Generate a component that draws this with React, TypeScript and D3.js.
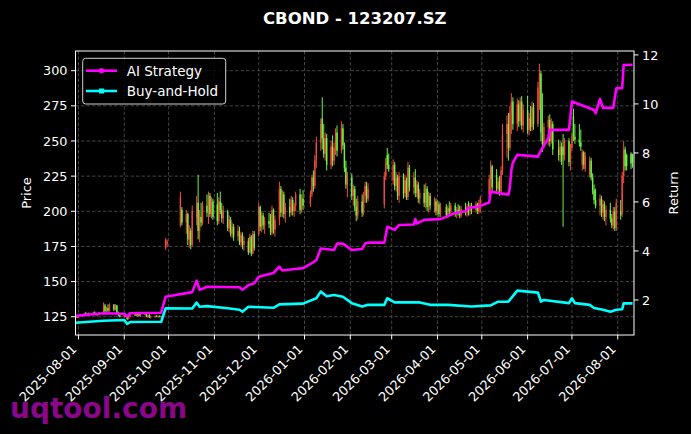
import React from 'react';
import * as d3 from 'd3';

// ---------- data ----------
// candles: [day, open, high, low, close]
const jul2025 = [
  [30, 124.5, 125.5, 123.8, 125.0], [31, 125.0, 125.8, 124.2, 124.6],
];
const aug2025 = [
  [1, 124.6, 126.0, 124.2, 125.6], [4, 125.6, 127.0, 125.0, 126.4], [5, 126.4, 127.8, 125.8, 127.2],
  [6, 127.2, 128.5, 126.0, 126.5], [7, 126.5, 127.5, 125.6, 127.0], [8, 127.0, 128.0, 126.2, 126.6],
  [11, 126.6, 128.6, 126.0, 128.0], [12, 128.0, 128.8, 126.5, 127.0], [13, 127.0, 127.8, 125.8, 126.2],
  [14, 126.2, 127.6, 125.5, 127.2], [15, 127.2, 128.2, 126.4, 126.8], [18, 126.8, 135.2, 126.5, 133.0],
  [19, 133.0, 134.2, 128.0, 129.0], [20, 129.0, 132.0, 128.2, 131.2], [21, 131.2, 133.8, 128.4, 129.2],
  [22, 129.2, 134.5, 128.6, 133.6], [25, 133.6, 134.0, 129.0, 130.0], [26, 130.0, 134.0, 129.5, 133.0],
  [27, 133.0, 133.4, 126.8, 127.5], [28, 127.5, 128.6, 125.2, 126.0], [29, 126.0, 127.4, 124.6, 125.0],
];
const sep2025 = [
  [1, 125.0, 126.8, 124.4, 126.2], [2, 126.2, 127.0, 124.8, 125.2], [3, 125.2, 125.8, 122.6, 123.4],
  [4, 123.4, 125.6, 123.0, 125.2], [5, 125.2, 126.6, 124.6, 126.0], [8, 126.0, 128.2, 125.6, 127.6],
  [9, 127.6, 128.2, 125.4, 125.8], [10, 125.8, 127.4, 125.0, 126.8], [11, 126.8, 127.6, 125.2, 125.6],
  [12, 125.6, 127.2, 124.8, 126.6], [15, 126.6, 128.0, 125.8, 127.4], [16, 127.4, 127.8, 124.6, 125.0],
  [17, 125.0, 126.6, 124.2, 126.0], [18, 126.0, 126.8, 124.0, 124.6], [19, 124.6, 125.8, 123.8, 125.2],
  [22, 125.2, 126.0, 124.4, 125.6], [23, 125.6, 126.2, 124.6, 125.0], [24, 125.0, 125.8, 124.2, 125.4],
  [25, 125.4, 126.0, 124.6, 124.8], [26, 124.8, 125.6, 124.0, 125.2], [29, 174.0, 181.0, 172.5, 179.5],
  [30, 176.5, 180.0, 174.5, 178.5],
];
const oct2025 = [
  [9, 190, 214, 188.5, 210], [10, 201, 203, 190, 192], [13, 192, 201, 184, 198], [14, 198, 199, 176, 180],
  [15, 180, 190, 174, 186], [16, 186, 188, 173, 176], [17, 176, 204, 175, 200], [20, 195, 211, 190, 206],
  [21, 206, 226, 180, 186], [22, 186, 201, 178, 196], [23, 196, 206, 189, 192], [24, 192, 207, 190, 204],
  [27, 204, 212, 196, 199], [28, 199, 214, 191, 211], [29, 211, 213, 196, 198], [30, 198, 210, 195, 207],
  [31, 207, 209, 194, 196],
];
const nov2025 = [
  [3, 205, 213, 190, 193], [4, 193, 210, 191, 207], [5, 207, 214, 198, 201], [6, 201, 206, 192, 195],
  [7, 195, 204, 191, 200], [10, 200, 201, 186, 188], [11, 188, 197, 185, 194], [12, 194, 196, 182, 184],
  [13, 184, 192, 181, 189], [14, 189, 191, 179, 182], [17, 182, 190, 179, 186], [18, 186, 189, 176, 178],
  [19, 178, 185, 175, 183], [20, 183, 185, 173, 176], [21, 176, 182, 172, 179], [24, 179, 181, 169, 171],
  [25, 171, 184, 170, 182], [26, 182, 183, 168, 170], [27, 170, 186, 169.5, 184], [28, 184, 186, 172, 174],
];
const dec2025 = [
  [1, 184, 206, 182, 203], [2, 203, 204, 186, 189], [3, 189, 200, 185, 197], [4, 197, 199, 187, 190],
  [5, 190, 196, 184, 193], [8, 193, 199, 188, 191], [9, 191, 198, 183, 185], [10, 185, 204, 183, 201],
  [11, 201, 202, 184, 187], [12, 187, 197, 182, 194], [15, 194, 221, 190, 216], [16, 216, 218, 196, 199],
  [17, 199, 215, 196, 212], [18, 212, 214, 195, 198], [19, 198, 206, 192, 203], [22, 203, 209, 196, 199],
  [23, 199, 211, 197, 208], [24, 208, 210, 197, 200], [25, 200, 206, 196, 204], [26, 204, 214, 200, 212],
  [29, 212, 216, 198, 201], [30, 201, 212, 199, 209], [31, 209, 215, 201, 204],
];
const jan2026 = [
  [5, 205, 215, 203, 212], [6, 212, 226, 210, 224], [7, 224, 229, 214, 218], [8, 218, 240, 216, 236],
  [9, 236, 253, 231, 249], [12, 249, 266, 243, 262], [13, 266, 281, 244, 252], [14, 252, 262, 238, 241],
  [15, 241, 256, 236, 252], [16, 252, 255, 229, 233], [19, 233, 250, 230, 246], [20, 246, 254, 232, 236],
  [21, 236, 249, 233, 245], [22, 245, 259, 240, 256], [23, 256, 261, 239, 243], [26, 243, 264, 241, 259],
  [27, 259, 262, 244, 247], [28, 247, 249, 228, 231], [29, 231, 236, 216, 219], [30, 219, 228, 210, 224],
];
const feb2026 = [
  [2, 224, 227, 208, 211], [3, 211, 219, 204, 216], [4, 216, 218, 200, 203], [5, 203, 209, 193, 197],
  [6, 197, 211, 194, 207], [9, 207, 212, 196, 199], [10, 199, 214, 197, 211], [11, 211, 221, 206, 218],
  [12, 218, 221, 206, 209], [13, 209, 220, 207, 216], [24, 205, 228, 202, 225], [25, 225, 238, 222, 234],
  [26, 240, 245, 230, 233], [27, 233, 241, 228, 230],
];
const mar2026 = [
  [2, 222, 237, 219, 233], [3, 233, 235, 215, 218], [4, 218, 228, 214, 224], [5, 224, 226, 208, 211],
  [6, 211, 228, 206, 225], [9, 225, 227, 209, 213], [10, 213, 226, 210, 222], [11, 222, 224, 208, 210],
  [12, 210, 235, 208, 231], [13, 231, 233, 214, 217], [16, 217, 228, 212, 224], [17, 224, 230, 210, 213],
  [18, 213, 222, 210, 219], [19, 219, 221, 206, 209], [20, 209, 216, 205, 213], [23, 213, 219, 203, 206],
  [24, 206, 220, 202, 216], [25, 216, 218, 200, 203], [26, 203, 214, 199, 211], [27, 211, 213, 201, 204],
  [30, 204, 210, 199, 207], [31, 207, 209, 197, 200],
];
const apr2026 = [
  [1, 200, 208, 197, 205], [2, 205, 207, 196, 198], [3, 198, 206, 196, 203], [7, 203, 205, 195, 197],
  [8, 197, 204, 195, 202], [9, 202, 207, 198, 200], [10, 200, 206, 197, 204], [13, 204, 206, 196, 198],
  [14, 198, 203, 195, 201], [15, 201, 205, 197, 199], [16, 199, 204, 195, 197], [17, 197, 204, 195.5, 202],
  [20, 202, 206, 197, 199], [21, 199, 205, 196, 203], [22, 203, 207, 197, 200], [23, 200, 206, 197, 204],
  [24, 204, 206, 198, 201], [27, 201, 207, 199, 205], [28, 205, 206, 198, 200], [29, 200, 208, 198, 206],
  [30, 206, 211, 199, 209],
];
const may2026 = [
  [6, 212, 226, 210, 223], [7, 223, 236, 215, 232], [8, 232, 233, 214, 217], [11, 226, 230, 214, 216],
  [12, 216, 224, 212, 221], [13, 221, 225, 211, 214], [14, 214, 232, 212, 229], [15, 229, 262, 226, 255],
  [18, 255, 268, 238, 262], [19, 262, 270, 236, 245], [20, 245, 275, 243, 270], [21, 270, 284, 255, 278],
  [22, 278, 281, 258, 262], [25, 262, 280, 257, 276], [26, 276, 279, 260, 264], [27, 264, 281, 261, 278],
  [28, 278, 282, 258, 261], [29, 261, 276, 256, 272],
];
const jun2026 = [
  [1, 272, 282, 255, 258], [2, 258, 270, 254, 266], [3, 266, 275, 257, 260], [4, 260, 278, 257, 274],
  [5, 274, 277, 258, 262], [8, 262, 292, 260, 288], [9, 288, 305, 272, 298], [10, 298, 300, 250, 256],
  [11, 256, 284, 242, 248], [12, 248, 263, 245, 260], [15, 260, 268, 247, 265], [16, 265, 269, 246, 250],
  [17, 250, 266, 248, 262], [18, 262, 264, 240, 244], [22, 244, 251, 236, 240], [23, 240, 250, 235, 246],
  [24, 246, 249, 233, 236], [25, 246, 255, 189, 240], [26, 240, 252, 236, 250], [29, 250, 252, 232, 235],
  [30, 235, 248, 229, 245],
];
const jul2026 = [
  [1, 245, 256, 243, 253], [2, 268, 273, 250, 253], [3, 253, 262, 248, 251], [6, 251, 262, 246, 249],
  [7, 249, 258, 243, 246], [8, 233, 244, 229, 242], [9, 242, 243, 230, 233], [10, 230, 242, 228, 239],
  [13, 226, 239, 224, 236], [14, 236, 238, 222, 224], [15, 224, 227, 212, 215], [16, 215, 219, 205, 208],
  [17, 208, 216, 202, 204], [20, 204, 212, 197, 209], [21, 209, 211, 196, 199], [22, 199, 208, 194, 205],
  [23, 205, 207, 193, 196], [24, 196, 204, 190, 201], [27, 201, 206, 192, 195], [28, 195, 198, 188, 190],
  [29, 190, 203, 187, 200], [30, 200, 203, 186, 188], [31, 188, 209, 186, 206],
];
const aug2026 = [
  [3, 200, 208, 194, 197], [4, 198, 228, 196, 225], [5, 225, 250, 220, 244], [6, 244, 246, 229, 232],
  [7, 240, 241, 229, 232], [10, 241, 242, 230, 234], [11, 240, 241, 231, 235],
];

const aiStrategy: [string, number][] = [
  ['2025-07-30', 1.35], ['2025-08-18', 1.46], ['2025-09-01', 1.44], ['2025-09-03', 1.32],
  ['2025-09-05', 1.46], ['2025-09-26', 1.48], ['2025-09-29', 2.13], ['2025-10-17', 2.32],
  ['2025-10-20', 2.79], ['2025-10-22', 2.41], ['2025-10-27', 2.54], ['2025-11-18', 2.52],
  ['2025-11-20', 2.42], ['2025-11-24', 2.6], ['2025-11-28', 2.68], ['2025-12-01', 2.95],
  ['2025-12-11', 3.1], ['2025-12-15', 3.36], ['2025-12-17', 3.2], ['2025-12-24', 3.25],
  ['2025-12-31', 3.3], ['2026-01-06', 3.5], ['2026-01-09', 3.63], ['2026-01-12', 4.1],
  ['2026-01-21', 4.04], ['2026-01-23', 4.3], ['2026-01-27', 4.3], ['2026-02-02', 4.04],
  ['2026-02-09', 4.08], ['2026-02-11', 4.3], ['2026-02-13', 4.34], ['2026-02-24', 4.34],
  ['2026-02-26', 4.99], ['2026-03-03', 4.86], ['2026-03-06', 5.06], ['2026-03-16', 5.08],
  ['2026-03-17', 5.3], ['2026-03-18', 5.12], ['2026-03-23', 5.27], ['2026-04-03', 5.3],
  ['2026-04-08', 5.42], ['2026-04-13', 5.55], ['2026-04-20', 5.62], ['2026-04-22', 5.76],
  ['2026-04-28', 5.8], ['2026-05-06', 5.98], ['2026-05-07', 6.42], ['2026-05-19', 6.3],
  ['2026-05-20', 6.6], ['2026-05-21', 7.3], ['2026-05-22', 7.6], ['2026-05-25', 7.92],
  ['2026-06-08', 7.85], ['2026-06-10', 8.1], ['2026-06-15', 8.6], ['2026-06-16', 8.94],
  ['2026-06-29', 8.94], ['2026-07-01', 10.1], ['2026-07-16', 9.75], ['2026-07-17', 9.62],
  ['2026-07-20', 10.2], ['2026-07-22', 9.84], ['2026-07-29', 9.84], ['2026-07-31', 10.64],
  ['2026-08-04', 10.64], ['2026-08-05', 11.59], ['2026-08-11', 11.6],
];
const buyHold: [string, number][] = [
  ['2025-07-30', 1.07], ['2025-08-18', 1.15], ['2025-09-01', 1.18], ['2025-09-03', 1.02],
  ['2025-09-05', 1.1], ['2025-09-26', 1.11], ['2025-09-29', 1.66], ['2025-10-17', 1.65],
  ['2025-10-20', 1.89], ['2025-10-22', 1.72], ['2025-10-27', 1.75], ['2025-11-10', 1.66],
  ['2025-11-18', 1.6], ['2025-11-20', 1.52], ['2025-11-24', 1.72], ['2025-12-11', 1.68],
  ['2025-12-15', 1.82], ['2025-12-31', 1.85], ['2026-01-09', 2.07], ['2026-01-12', 2.34],
  ['2026-01-16', 2.15], ['2026-01-21', 2.2], ['2026-01-27', 2.13], ['2026-02-02', 1.87],
  ['2026-02-09', 1.73], ['2026-02-13', 1.8], ['2026-02-24', 1.8], ['2026-02-26', 2.07],
  ['2026-03-03', 1.9], ['2026-03-20', 1.9], ['2026-03-27', 1.8], ['2026-04-08', 1.8],
  ['2026-04-24', 1.73], ['2026-05-07', 1.78], ['2026-05-12', 1.93], ['2026-05-19', 1.93],
  ['2026-05-25', 2.38], ['2026-06-08', 2.3], ['2026-06-10', 1.93], ['2026-06-12', 2.0],
  ['2026-06-29', 1.87], ['2026-07-01', 2.07], ['2026-07-03', 1.87], ['2026-07-13', 1.8],
  ['2026-07-16', 1.67], ['2026-07-22', 1.6], ['2026-07-27', 1.52], ['2026-07-31', 1.6],
  ['2026-08-04', 1.62], ['2026-08-05', 1.86], ['2026-08-11', 1.86],
];

const priceTicks = [125, 150, 175, 200, 225, 250, 275, 300];
const returnTicks = [2, 4, 6, 8, 10, 12];
const dateTicks = [
  '2025-08-01', '2025-09-01', '2025-10-01', '2025-11-01', '2025-12-01', '2026-01-01', '2026-02-01',
  '2026-03-01', '2026-04-01', '2026-05-01', '2026-06-01', '2026-07-01', '2026-08-01',
];
const title = 'CBOND - 123207.SZ';
const legendLabels = ['AI Strategy', 'Buy-and-Hold'];

// ---------- layout ----------
const W = 691, H = 434;
const L = 75.5, R = 634, T = 51, B = 335;
const FONT = '"DejaVu Sans", sans-serif';
const UP = '#f04a3c', DOWN = '#6cf542';

const monthBlocks: [number, number, number[][]][] = [
  [2025, 6, jul2025], [2025, 7, aug2025], [2025, 8, sep2025], [2025, 9, oct2025],
  [2025, 10, nov2025], [2025, 11, dec2025], [2026, 0, jan2026], [2026, 1, feb2026],
  [2026, 2, mar2026], [2026, 3, apr2026], [2026, 4, may2026], [2026, 5, jun2026],
  [2026, 6, jul2026], [2026, 7, aug2026],
];

export default function App() {
  const parse = d3.timeParse('%Y-%m-%d');
  const fmt = d3.timeFormat('%Y-%m-%d');
  const x = d3.scaleTime().domain([new Date(2025, 6, 30), new Date(2026, 7, 12)]).range([L, R]);
  const yP = d3.scaleLinear().domain([112, 314]).range([B, T]);
  const yR = d3.scaleLinear().domain([0.57, 12.16]).range([B, T]);

  const candles = monthBlocks.flatMap(([yr, mo, rows]) =>
    rows.map((r) => ({ date: new Date(yr, mo, r[0]), o: r[1], h: r[2], l: r[3], c: r[4] }))
  );

  const lineGen = d3
    .line<[string, number]>()
    .x((d) => x(parse(d[0]) as Date))
    .y((d) => yR(d[1]));

  const xTickDates = dateTicks.map((s) => parse(s) as Date);

  return (
    <svg
      width={W}
      height={H}
      style={{ position: 'absolute', left: 0, top: 0, background: '#000' }}
      fontFamily={FONT}
    >
      <rect x={0} y={0} width={W} height={H} fill="#000" />
      <defs>
        <clipPath id="plotclip">
          <rect x={L} y={T} width={R - L} height={B - T} />
        </clipPath>
      </defs>

      {/* title */}
      <text x={(L + R) / 2} y={24} fill="#fff" fontSize={16.5} fontWeight="bold" textAnchor="middle">
        {title}
      </text>

      {/* grid */}
      <g stroke="#5e5e5e" strokeWidth={0.7} strokeDasharray="3.5,2">
        {xTickDates.map((d, i) => (
          <line key={'gx' + i} x1={x(d)} x2={x(d)} y1={T} y2={B} />
        ))}
        {priceTicks.map((v) => (
          <line key={'gy' + v} x1={L} x2={R} y1={yP(v)} y2={yP(v)} />
        ))}
      </g>

      {/* candles */}
      <g clipPath="url(#plotclip)">
        {candles.map((c, i) => {
          const cx = x(c.date);
          const col = c.c >= c.o ? UP : DOWN;
          const top = yP(Math.max(c.o, c.c));
          const bot = yP(Math.min(c.o, c.c));
          return (
            <g key={'c' + i}>
              <line x1={cx} x2={cx} y1={yP(c.h)} y2={yP(c.l)} stroke={col} strokeWidth={1} />
              <rect x={cx - 0.7} y={top} width={1.4} height={Math.max(0.8, bot - top)} fill={col} />
            </g>
          );
        })}
      </g>

      {/* return lines */}
      <g clipPath="url(#plotclip)" fill="none" strokeWidth={2.6} strokeLinejoin="round">
        <path d={lineGen(buyHold) || ''} stroke="#00ffff" />
        <path d={lineGen(aiStrategy) || ''} stroke="#ff00ff" />
      </g>

      {/* watermark */}
      <text x={10} y={418} fill="#8a078a" fontSize={28} fontWeight="bold">
        uqtool.com
      </text>

      {/* frame */}
      <rect x={L} y={T} width={R - L} height={B - T} fill="none" stroke="#fff" strokeWidth={1} />

      {/* left axis */}
      <g fill="#fff" fontSize={12.8}>
        {priceTicks.map((v) => (
          <g key={'lt' + v}>
            <line x1={L - 4.5} x2={L} y1={yP(v)} y2={yP(v)} stroke="#fff" strokeWidth={1} />
            <text x={L - 8} y={yP(v)} dy="0.36em" textAnchor="end">
              {v}
            </text>
          </g>
        ))}
      </g>
      <text
        transform={`translate(26,${(T + B) / 2}) rotate(-90)`}
        fill="#fff"
        fontSize={13}
        textAnchor="middle"
        dy="0.36em"
      >
        Price
      </text>

      {/* right axis */}
      <g fill="#fff" fontSize={12.8}>
        {returnTicks.map((v) => (
          <g key={'rt' + v}>
            <line x1={R} x2={R + 4.5} y1={yR(v)} y2={yR(v)} stroke="#fff" strokeWidth={1} />
            <text x={R + 8} y={yR(v)} dy="0.36em" textAnchor="start">
              {v}
            </text>
          </g>
        ))}
      </g>
      <text
        transform={`translate(673,${(T + B) / 2}) rotate(-90)`}
        fill="#fff"
        fontSize={13}
        textAnchor="middle"
        dy="0.36em"
      >
        Return
      </text>

      {/* bottom axis */}
      <g fill="#fff" fontSize={12.8}>
        {xTickDates.map((d, i) => (
          <g key={'bt' + i}>
            <line x1={x(d)} x2={x(d)} y1={B} y2={B + 4.5} stroke="#fff" strokeWidth={1} />
            <text
              transform={`translate(${x(d) - 1},${B + 15}) rotate(-45)`}
              textAnchor="end"
            >
              {fmt(d)}
            </text>
          </g>
        ))}
      </g>

      {/* legend */}
      <g>
        <rect x={82.7} y={58.3} width={143} height={45.7} rx={3} fill="#000" fillOpacity={0.8} stroke="#cfcfcf" strokeWidth={1} />
        <line x1={86} x2={117} y1={70.7} y2={70.7} stroke="#ff00ff" strokeWidth={2.6} />
        <circle cx={101.5} cy={70.7} r={2.6} fill="#ff00ff" />
        <text x={126.7} y={70.7} dy="0.36em" fill="#fff" fontSize={13.5}>
          {legendLabels[0]}
        </text>
        <line x1={86} x2={117} y1={91} y2={91} stroke="#00ffff" strokeWidth={2.6} />
        <rect x={99} y={88.5} width={5} height={5} fill="#00ffff" />
        <text x={126.7} y={91} dy="0.36em" fill="#fff" fontSize={13.5}>
          {legendLabels[1]}
        </text>
      </g>
    </svg>
  );
}
